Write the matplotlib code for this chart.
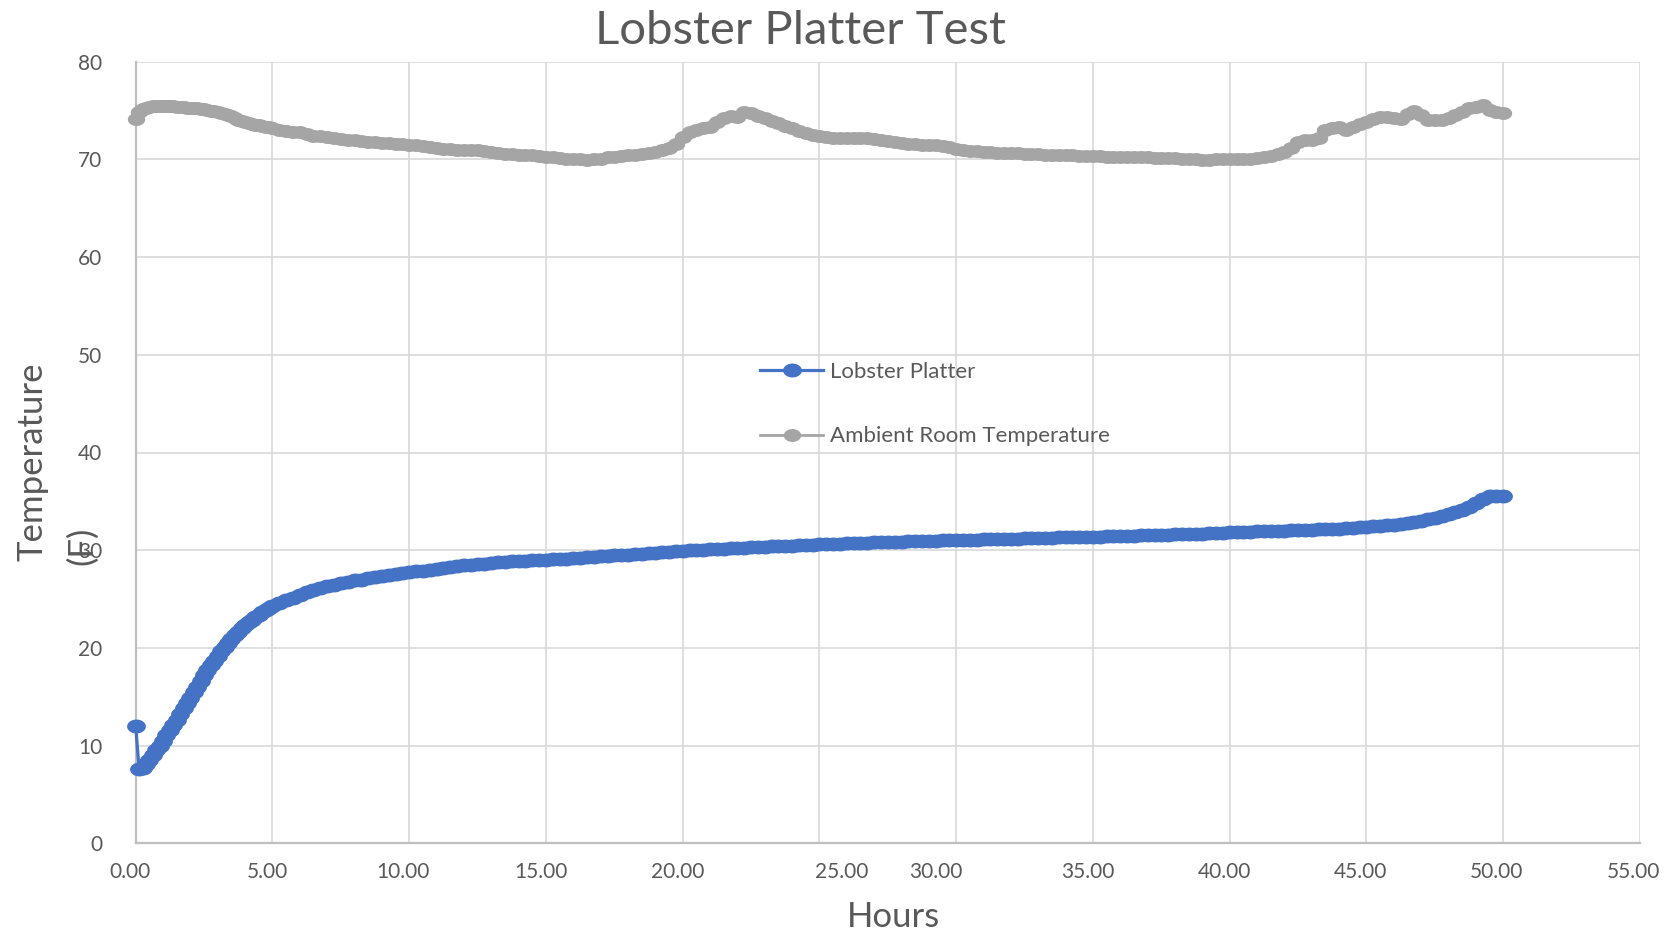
import numpy as np
import matplotlib
matplotlib.use("Agg")
import matplotlib.pyplot as plt
from matplotlib.path import Path
from matplotlib.transforms import ScaledTranslation

plt.rcParams['font.family'] = ['Lato', 'DejaVu Sans']

# logger readings: every 7.5 min for the first 5 h, then every 15 min
hours = np.concatenate([np.arange(0, 5, 0.125), np.arange(5, 50.01, 0.25)])

lobster_platter = [
    # 0 - 4.875 h
    12.0, 7.6, 7.7, 8.1, 8.5, 9.0, 9.5, 10.0, 10.5, 11.05, 11.6, 12.1, 12.65, 13.25, 13.85, 14.35, 14.9, 15.45, 16.0, 16.6,
    17.2, 17.7, 18.2, 18.7, 19.2, 19.65, 20.1, 20.5, 20.9, 21.3, 21.65, 22.0, 22.3, 22.6, 22.9, 23.15, 23.4, 23.65, 23.85, 24.05,
    # 5 h onwards
    24.25, 24.6, 24.9, 25.15, 25.45, 25.7, 25.9, 26.1, 26.3, 26.45, 26.6, 26.75, 26.9, 27.0, 27.15, 27.25, 27.4, 27.5, 27.6, 27.7,
    27.8, 27.85, 27.9, 28.0, 28.1, 28.15, 28.25, 28.35, 28.45, 28.5, 28.55, 28.6, 28.65, 28.75, 28.8, 28.85, 28.9, 28.9, 28.95, 29.0,
    29.0, 29.05, 29.1, 29.1, 29.2, 29.25, 29.3, 29.3, 29.4, 29.45, 29.5, 29.5, 29.55, 29.6, 29.65, 29.7, 29.75, 29.8, 29.85, 29.9,
    29.95, 30.0, 30.0, 30.05, 30.1, 30.1, 30.15, 30.2, 30.2, 30.25, 30.3, 30.3, 30.35, 30.4, 30.4, 30.45, 30.45, 30.5, 30.5, 30.55,
    30.6, 30.6, 30.65, 30.65, 30.7, 30.7, 30.75, 30.75, 30.8, 30.8, 30.8, 30.85, 30.85, 30.9, 30.9, 30.9, 30.95, 30.95, 31.0, 31.0,
    31.0, 31.0, 31.05, 31.05, 31.1, 31.1, 31.1, 31.15, 31.15, 31.15, 31.2, 31.2, 31.2, 31.25, 31.25, 31.3, 31.3, 31.3, 31.35, 31.35,
    31.4, 31.4, 31.45, 31.45, 31.5, 31.5, 31.5, 31.55, 31.55, 31.6, 31.6, 31.6, 31.65, 31.65, 31.7, 31.7, 31.7, 31.75, 31.75, 31.8,
    31.85, 31.85, 31.9, 31.9, 31.95, 31.95, 32.0, 32.0, 32.0, 32.05, 32.05, 32.1, 32.1, 32.15, 32.15, 32.2, 32.2, 32.25, 32.3, 32.35,
    32.4, 32.45, 32.5, 32.55, 32.6, 32.65, 32.75, 32.85, 33.0, 33.15, 33.3, 33.5, 33.7, 33.9, 34.15, 34.45, 34.8, 35.2, 35.5, 35.55,
    35.55,
]

ambient_room = [
    # 0 - 4.875 h
    74.1, 74.9, 75.2, 75.3, 75.4, 75.45, 75.5, 75.5, 75.5, 75.5, 75.45, 75.45, 75.4, 75.4, 75.35, 75.3, 75.3, 75.3, 75.3, 75.2,
    75.15, 75.1, 75.0, 74.95, 74.85, 74.75, 74.65, 74.55, 74.4, 74.2, 74.0, 73.9, 73.8, 73.7, 73.6, 73.55, 73.5, 73.4, 73.35, 73.3,
    # 5 h onwards
    73.25, 73.05, 72.9, 72.85, 72.8, 72.55, 72.4, 72.35, 72.25, 72.2, 72.1, 72.0, 71.95, 71.9, 71.8, 71.75, 71.7, 71.65, 71.6, 71.55,
    71.5, 71.45, 71.4, 71.3, 71.2, 71.1, 71.05, 71.0, 71.0, 71.0, 70.95, 70.85, 70.75, 70.65, 70.6, 70.55, 70.5, 70.45, 70.4, 70.3,
    70.25, 70.2, 70.1, 70.05, 70.0, 70.0, 69.97, 70.0, 70.05, 70.2, 70.25, 70.35, 70.45, 70.5, 70.55, 70.65, 70.8, 70.95, 71.2, 71.6,
    72.3, 72.8, 73.05, 73.2, 73.35, 73.8, 74.2, 74.4, 74.35, 74.85, 74.7, 74.45, 74.2, 73.95, 73.7, 73.45, 73.2, 72.95, 72.7, 72.5,
    72.35, 72.3, 72.2, 72.15, 72.15, 72.2, 72.2, 72.15, 72.05, 71.95, 71.85, 71.75, 71.7, 71.6, 71.55, 71.5, 71.5, 71.45, 71.35, 71.25,
    71.1, 71.0, 70.9, 70.85, 70.8, 70.75, 70.7, 70.7, 70.65, 70.65, 70.6, 70.6, 70.55, 70.5, 70.5, 70.45, 70.4, 70.4, 70.35, 70.3,
    70.3, 70.3, 70.25, 70.25, 70.2, 70.2, 70.25, 70.2, 70.2, 70.15, 70.15, 70.1, 70.1, 70.05, 70.0, 70.0, 69.95, 69.95, 70.0, 70.0,
    70.0, 70.0, 70.0, 70.05, 70.15, 70.25, 70.35, 70.55, 70.8, 71.2, 71.8, 72.0, 71.95, 72.2, 73.05, 73.2, 73.3, 73.05, 73.3, 73.6,
    73.8, 74.1, 74.35, 74.35, 74.25, 74.15, 74.6, 74.95, 74.5, 74.05, 74.0, 74.05, 74.2, 74.5, 74.9, 75.3, 75.4, 75.6, 75.1, 74.9,
    74.75,
]

series_names = ['Lobster Platter', 'Ambient Room Temperature']
x_ticks = [0, 5, 10, 15, 20, 25, 30, 35, 40, 45, 50, 55]
x_tick_labels = ['0.00', '5.00', '10.00', '15.00', '20.00', '25.00',
                 '30.00', '35.00', '40.00', '45.00', '50.00', '55.00']
y_ticks = [0, 10, 20, 30, 40, 50, 60, 70, 80]

# sideways shift (px) of each hour label under its gridline
x_label_shift = [-6, -5, -6, -5, -5, 22, -20, -5, -5, -6, -7, -7]

text_grey = '#595959'
blue = '#4472C4'
grey = '#A5A5A5'

# slightly squashed round marker
t = np.linspace(0, 2 * np.pi, 60)
ellipse = Path(np.column_stack([np.cos(t), 0.72 * np.sin(t)]), closed=True)

fig = plt.figure(figsize=(16.77, 9.33), dpi=100)
W, H = 1677, 933
ax = fig.add_axes([135.7 / W, 1 - 843.3 / H, (1640 - 135.7) / W, (843.3 - 61.7) / H])

ax.plot(hours, ambient_room, color=grey, lw=2.0, marker=ellipse, ms=11.5,
        mec=grey, mfc=grey, clip_on=False, zorder=3, label=series_names[1])
ax.plot(hours, lobster_platter, color=blue, lw=2.3, marker=ellipse, ms=12.5,
        mec=blue, mfc=blue, clip_on=False, zorder=3, label=series_names[0])

ax.set_xlim(0, 55)
ax.set_ylim(0, 80)
ax.set_yticks(y_ticks)
ax.set_xticks(x_ticks)
ax.set_xticklabels([])
ax.grid(True, color='#D9D9D9', lw=1.2, zorder=0)
ax.set_axisbelow(True)
for side in ['top', 'right']:
    ax.spines[side].set_visible(False)
for side in ['bottom', 'left']:
    ax.spines[side].set_color('#BFBFBF')
    ax.spines[side].set_linewidth(1.6)
ax.tick_params(axis='both', length=0, labelcolor=text_grey, labelsize=15)
ax.tick_params(axis='y', pad=24)

for val, lab, dx in zip(x_ticks, x_tick_labels, x_label_shift):
    tr = ax.get_xaxis_transform() + ScaledTranslation(dx / 100, -0.19, fig.dpi_scale_trans)
    ax.text(val, 0, lab, transform=tr, ha='center', va='top',
            fontsize=15, color=text_grey)

handles, labels = ax.get_legend_handles_labels()
leg = ax.legend(handles[::-1], labels[::-1], loc='upper left',
                bbox_to_anchor=(760 / W, 1 - 362 / H), bbox_transform=fig.transFigure,
                frameon=False, fontsize=16, handlelength=2.85, handletextpad=0.3,
                labelspacing=2.0, borderpad=0, borderaxespad=0)
for txt in leg.get_texts():
    txt.set_color(text_grey)

fig.text(800 / W, 1 - 44 / H, 'Lobster Platter Test', ha='center', va='baseline',
         fontsize=34, color=text_grey)
fig.text(893 / W, 1 - 927 / H, 'Hours', ha='center', va='baseline',
         fontsize=25, color=text_grey)
fig.text(33 / W, 1 - 462 / H, 'Temperature', rotation=90, ha='center', va='center',
         fontsize=25, color=text_grey)
fig.text(82 / W, 1 - 546 / H, '(F)', rotation=90, ha='center', va='center',
         fontsize=25, color=text_grey)

fig.savefig('out.png', dpi=100)
